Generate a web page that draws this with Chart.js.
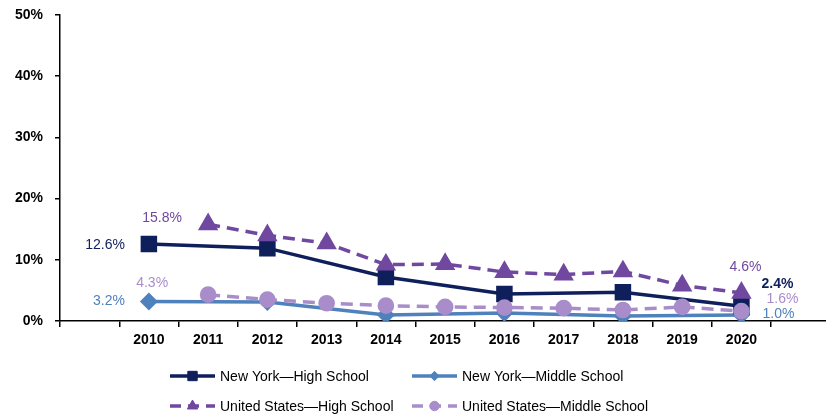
<!DOCTYPE html>
<html>
<head>
<meta charset="utf-8">
<script src="https://cdn.jsdelivr.net/npm/chart.js@4.4.1/dist/chart.umd.min.js"></script>
<style>
  html, body { margin: 0; padding: 0; background: #ffffff; overflow: hidden; }
  #wrap { width: 826px; height: 414px; position: relative; overflow: hidden; }
  #c { display: block; }
</style>
</head>
<body>
<div id="wrap"><canvas id="c" width="843" height="414"></canvas></div>
<script>
// ---- data ----
const categories = ['', '2010', '2011', '2012', '2013', '2014', '2015', '2016', '2017', '2018', '2019', '2020', ''];
const nyHigh   = [null, 12.6, null, 11.9, null, 7.2, null, 4.4, null, 4.7, null, 2.4, null];
const nyMiddle = [null, 3.2, null, 3.1, null, 1.0, null, 1.3, null, 0.8, null, 1.0, null];
const usHigh   = [null, null, 15.8, 14.0, 12.7, 9.2, 9.3, 8.0, 7.6, 8.1, 5.8, 4.6, null];
const usMiddle = [null, null, 4.3, 3.5, 2.9, 2.5, 2.3, 2.2, 2.1, 1.8, 2.3, 1.6, null];
const seriesNames = ['New York\u2014High School', 'New York\u2014Middle School', 'United States\u2014High School', 'United States\u2014Middle School'];
const yTicks = [0, 10, 20, 30, 40, 50];

const C_NYH = '#0E1F5B';
const C_NYM = '#4F81BD';
const C_USH = '#7048A0';
const C_USM = '#A98DCB';
const FONT = '"Liberation Sans", Arial, sans-serif';

// data labels: [datasetIndex, pointIndex, dx, dy, align, weight]
const labelSpecs = [
  [0, 1, -24, 1, 'right', 'normal'],
  [1, 1, -24, 0, 'right', 'normal'],
  [2, 2, -46, -6, 'center', 'normal'],
  [3, 2, -56, -12, 'center', 'normal'],
  [2, 11, 4, -26, 'center', 'normal'],
  [0, 11, 36, -22, 'center', 'bold'],
  [3, 11, 41, -12, 'center', 'normal'],
  [1, 11, 37, -1, 'center', 'normal']
];

const dataLabelPlugin = {
  id: 'dataLabels',
  afterDatasetsDraw(chart) {
    const ctx = chart.ctx;
    ctx.save();
    ctx.textBaseline = 'middle';
    labelSpecs.forEach(([di, pi, dx, dy, align, weight]) => {
      const ds = chart.data.datasets[di];
      const pt = chart.getDatasetMeta(di).data[pi];
      ctx.font = weight + ' 14px ' + FONT;
      ctx.fillStyle = ds.borderColor;
      ctx.textAlign = align;
      ctx.fillText(ds.data[pi].toFixed(1) + '%', pt.x + dx, pt.y + dy);
    });
    ctx.restore();
  }
};

const legendPlugin = {
  id: 'gridLegend',
  afterDraw(chart) {
    const ctx = chart.ctx;
    const cols = [170, 412];
    const rows = [376, 406];
    ctx.save();
    [0, 1, 2, 3].forEach((di, k) => {
      const ds = chart.data.datasets[di];
      const x = cols[k % 2], y = rows[Math.floor(k / 2)];
      ctx.save();
      ctx.strokeStyle = ds.borderColor;
      ctx.lineWidth = ds.borderWidth;
      ctx.setLineDash(ds.borderDash ? [11, 7] : []);
      ctx.beginPath();
      ctx.moveTo(x, y);
      ctx.lineTo(x + 45, y);
      ctx.stroke();
      ctx.restore();
      ctx.save();
      ctx.fillStyle = ds.pointBackgroundColor;
      ctx.strokeStyle = ds.pointBorderColor;
      ctx.lineWidth = 1;
      Chart.helpers.drawPoint(ctx, {pointStyle: ds.pointStyle, radius: ds.pointRadius * 0.72, rotation: 0, borderWidth: 1}, x + 22.5, y);
      ctx.restore();
      ctx.fillStyle = '#000000';
      ctx.font = '14px ' + FONT;
      ctx.textAlign = 'left';
      ctx.textBaseline = 'middle';
      ctx.fillText(ds.label, x + 50, y + 1);
    });
    ctx.restore();
  }
};

function mkDs(label, data, color, style, radius, dashed, order) {
  return {
    label, data, order,
    borderColor: color,
    backgroundColor: color,
    pointBackgroundColor: color,
    pointBorderColor: color,
    pointStyle: style,
    pointRadius: radius,
    pointHoverRadius: radius,
    borderWidth: 3.5,
    borderDash: dashed ? [12, 7] : undefined,
    spanGaps: true,
    tension: 0,
    fill: false
  };
}

new Chart(document.getElementById('c'), {
  type: 'line',
  data: {
    labels: categories,
    datasets: [
      mkDs(seriesNames[0], nyHigh, C_NYH, 'rect', 9.2, false, 2),
      mkDs(seriesNames[1], nyMiddle, C_NYM, 'rectRot', 6.5, false, 3),
      mkDs(seriesNames[2], usHigh, C_USH, 'triangle', 8.3, true, 1),
      mkDs(seriesNames[3], usMiddle, C_USM, 'circle', 6.6, true, 0)
    ]
  },
  options: {
    responsive: false,
    animation: false,
    devicePixelRatio: 1,
    layout: { padding: { top: 15, right: 0, bottom: 63, left: 0 } },
    plugins: { legend: { display: false }, tooltip: { enabled: false } },
    scales: {
      x: {
        type: 'category',
        offset: true,
        afterFit(s) { s.height = 30; },
        grid: { offset: true, drawOnChartArea: false, drawTicks: true, tickLength: 6, color: '#000000', lineWidth: 1.5 },
        border: { display: true, color: '#000000', width: 1.5 },
        ticks: { autoSkip: false, maxRotation: 0, padding: 5, color: '#000000', font: { family: FONT, size: 14, weight: 'bold' } }
      },
      y: {
        min: yTicks[0],
        max: yTicks[yTicks.length - 1],
        afterFit(s) { s.width = 60; s.paddingTop = 0; s.paddingBottom = 0; },
        afterBuildTicks(s) { s.ticks = yTicks.map(v => ({ value: v })); },
        grid: { drawOnChartArea: false, drawTicks: true, tickLength: 5, color: '#000000', lineWidth: 1.5 },
        border: { display: true, color: '#000000', width: 1.5 },
        ticks: { padding: 12, color: '#000000', font: { family: FONT, size: 14, weight: 'bold' }, callback: v => v + '%' }
      }
    }
  },
  plugins: [dataLabelPlugin, legendPlugin]
});
</script>
</body>
</html>
